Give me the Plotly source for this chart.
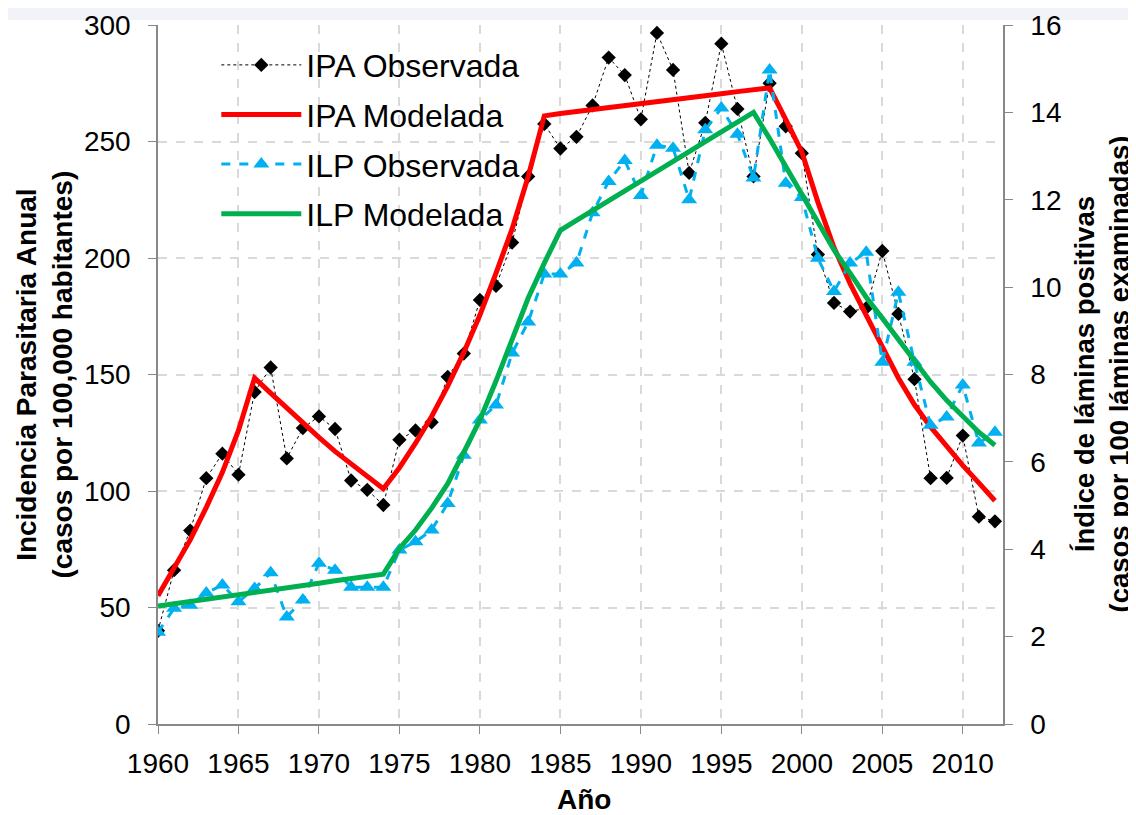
import plotly.graph_objects as go

years = list(range(1960, 2013))

ipa_obs = [40, 66, 83, 105.5, 116, 107, 142.5, 153, 114, 127, 132, 126.6, 104.5, 100.5, 94,
           122, 126, 129.5, 149, 159, 182, 188, 206.6, 235, 257.5, 247, 252, 265.5, 286, 278.5,
           259.5, 296.6, 280.7, 236.5, 258, 292, 264, 235, 275, 256.5, 245, 201.5, 180.7, 177,
           178.5, 203, 176, 148, 105.5, 105.6, 123.8, 89, 87]

ipa_mod = [55, 67, 79, 93, 108, 126, 148.5, 142, 135.5, 129, 123, 117, 111.5, 106, 101,
           110, 120.5, 132, 145, 159.5, 175.5, 193.5, 212.5, 235, 261, 262, 262.8, 263.7, 264.5, 265.4,
           266.2, 267.1, 268, 268.8, 269.7, 270.5, 271.4, 272.2, 273, 259.5, 245.5, 224, 204.5, 189,
           176, 162, 148.5, 137, 127.5, 119, 111, 103.5, 95.8]

ilp_obs = [2.1, 2.65, 2.72, 3.0, 3.18, 2.8, 3.1, 3.46, 2.45, 2.84, 3.68, 3.52, 3.13, 3.13, 3.13,
           3.98, 4.17, 4.44, 5.05, 6.15, 6.96, 7.3, 8.49, 9.2, 10.3, 10.3, 10.55, 11.7, 12.42, 12.9,
           12.1, 13.25, 13.18, 12.0, 13.6, 14.1, 13.5, 12.5, 14.97, 12.38, 12.05, 10.66, 9.9, 10.55,
           10.8, 8.28, 9.88, 8.28, 6.84, 7.03, 7.76, 6.43, 6.68]

ilp_mod = [2.70, 2.75, 2.80, 2.86, 2.91, 2.96, 3.01, 3.06, 3.12, 3.17, 3.22, 3.28, 3.33, 3.38, 3.43,
           4.02, 4.44, 4.94, 5.5, 6.22, 6.96, 7.85, 8.78, 9.75, 10.55, 11.3, 11.53, 11.75, 11.98, 12.2,
           12.43, 12.65, 12.88, 13.1, 13.33, 13.55, 13.78, 14.0, 13.4, 12.75, 12.1, 11.46, 10.85, 10.32,
           9.77, 9.29, 8.79, 8.33, 7.83, 7.41, 7.03, 6.68, 6.38]

left_ticks = [0, 50, 100, 150, 200, 250, 300]
right_ticks = [0, 2, 4, 6, 8, 10, 12, 14, 16]
x_ticks = list(range(1960, 2011, 5))

FONT = "Liberation Sans, Arial, sans-serif"

fig = go.Figure()
fig.add_trace(go.Scatter(
    x=years, y=ipa_obs, name="IPA Observada", mode="lines+markers",
    line=dict(color="black", width=1, dash="dot"),
    marker=dict(symbol="diamond", size=11, color="black"),
    legendgroup="a"))
fig.add_trace(go.Scatter(
    x=years, y=ipa_mod, name="IPA Modelada", mode="lines",
    line=dict(color="#ff0000", width=5), legendgroup="b"))
fig.add_trace(go.Scatter(
    x=years, y=ilp_obs, name="ILP Observada", mode="lines+markers", yaxis="y2",
    line=dict(color="#00b0f0", width=3, dash="dash"),
    marker=dict(symbol="triangle-up", size=14, color="#00b0f0"),
    legendgroup="c"))
fig.add_trace(go.Scatter(
    x=years, y=ilp_mod, name="ILP Modelada", mode="lines", yaxis="y2",
    line=dict(color="#00b050", width=5), legendgroup="d"))

grid = dict(showgrid=True, gridcolor="#d9d9d9", griddash="dash", gridwidth=1.5)
axis_common = dict(ticks="outside", ticklen=8, tickcolor="#888", showline=True,
                   linecolor="#888", linewidth=1.5, zeroline=False, automargin=False,
                   tickfont=dict(size=28))

fig.update_layout(
    width=1128, height=807,
    margin=dict(l=150, r=133, t=17, b=91),
    paper_bgcolor="white", plot_bgcolor="white",
    font=dict(family=FONT, size=28, color="black"),
    showlegend=True,
    legend=dict(x=0.069, y=0.982, xanchor="left", yanchor="top",
                font=dict(size=32, family=FONT), bgcolor="rgba(0,0,0,0)",
                tracegroupgap=5, itemwidth=80),
    xaxis=dict(range=[1960, 2012.5], tickvals=x_ticks, ticklabelstandoff=6,
               **axis_common, **grid),
    yaxis=dict(range=[0, 300], tickvals=left_ticks, ticklabelstandoff=12,
               **axis_common, **grid),
    yaxis2=dict(range=[0, 16], tickvals=right_ticks, overlaying="y", side="right",
                showgrid=False, ticklabelstandoff=12, **axis_common),
)

fig.add_annotation(text="<b>Incidencia Parasitaria Anual<br>(casos por 100,000 habitantes)</b>",
                   xref="paper", yref="paper", x=(44 - 158) / 845, y=0.5,
                   textangle=-90, showarrow=False, font=dict(size=28),
                   xanchor="center", yanchor="middle")
fig.add_annotation(text="<b>Índice de láminas positivas<br>(casos por 100 láminas examinadas)</b>",
                   xref="paper", yref="paper", x=(1102 - 158) / 845, y=0.5,
                   textangle=-90, showarrow=False, font=dict(size=27.5),
                   xanchor="center", yanchor="middle")
fig.add_annotation(text="<b>Año</b>", xref="paper", yref="paper",
                   x=(584 - 158) / 845, y=(724 - 800) / 699, showarrow=False,
                   font=dict(size=28), xanchor="center", yanchor="middle")

fig.add_shape(type="rect", xref="paper", yref="paper", x0=-0.2, x1=1.2,
              y0=1.0 + 5 / 699, y1=1.0 + 17 / 699, fillcolor="#f1f3f8",
              line=dict(width=0), layer="below")

fig.write_html("out.html")
